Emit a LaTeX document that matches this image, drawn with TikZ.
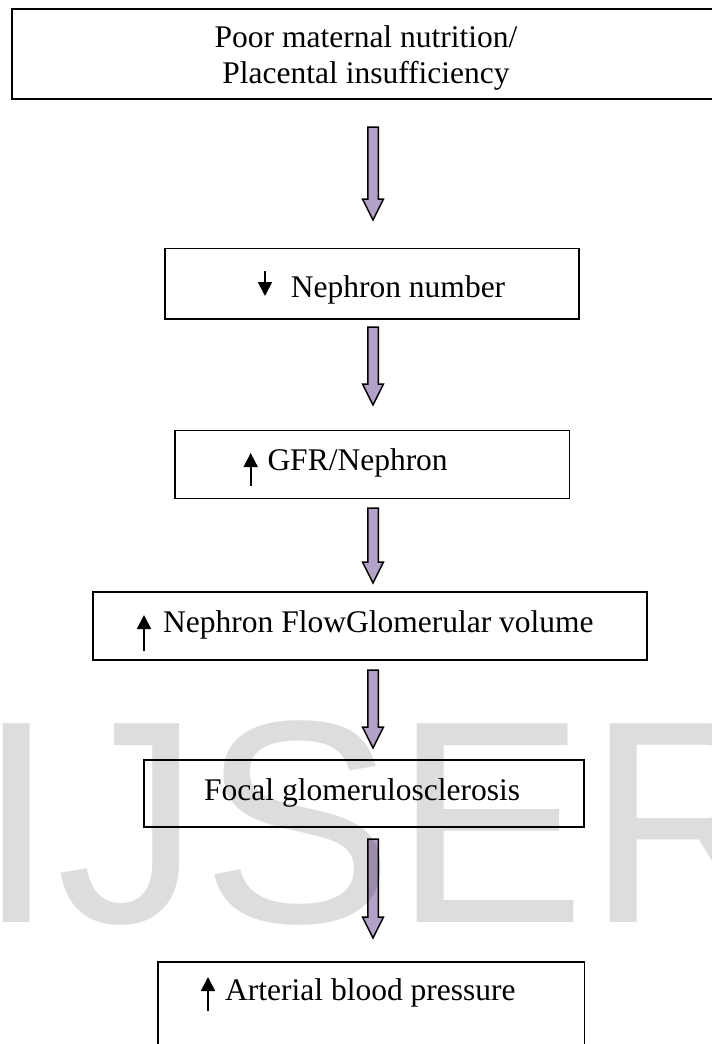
\documentclass[tikz,border=0pt]{standalone}
\usepackage{fontspec}
\setmainfont{Liberation Serif}
\newfontfamily\wmfont{Liberation Sans}
\usetikzlibrary{arrows.meta,calc}
\definecolor{arrowfill}{HTML}{B3A2C7}
\newcommand\flowarrow[2]{%
  \draw[bigarr] let \p1=(#1), \p2=(#2) in
    (\x1-5.25pt,\y1) -- (\x1+5.25pt,\y1) -- (\x1+5.25pt,\y2+21pt) -- (\x1+10.5pt,\y2+21pt)
    -- (\x2,\y2) -- (\x1-10.5pt,\y2+21pt) -- (\x1-5.25pt,\y2+21pt) -- cycle;}
\begin{document}
\begin{tikzpicture}[x=1pt,y=-1pt,
  box/.style={draw=black, line width=1.5pt, rectangle, inner sep=0pt},
  lbl/.style={font=\fontsize{31.5}{35.3}\selectfont, anchor=base west, inner sep=0pt},
  lblc/.style={font=\fontsize{31.5}{35.3}\selectfont, anchor=base, inner sep=0pt},
  smallarr/.style={line width=1.7pt, -{Triangle[width=14pt,length=14pt]}},
  bigarr/.style={draw=black, line width=1.5pt, fill=arrowfill, line join=miter},
  watermark/.style={font=\wmfont\fontsize{289}{289}\selectfont, text=black, text opacity=0.135, anchor=base west, inner sep=0pt}
]
\useasboundingbox (0,0) rectangle (712,1044);

% boxes
\node[box, minimum width=708pt, minimum height=90pt] (b1) at (366,54) {};
\node[box, minimum width=414pt, minimum height=70.7pt] (b2) at (372,283.65) {};
\node[box, minimum width=394.3pt, minimum height=67.6pt] (b3) at (372.25,464.5) {};
\node[box, minimum width=554pt, minimum height=68pt] (b4) at (370,626) {};
\node[box, minimum width=440pt, minimum height=67pt] (b5) at (364,793.5) {};
\node[box, minimum width=426.5pt, minimum height=120pt] (b6) at (371.25,1022) {};

% texts
\node[lblc] (t1a) at (366,47.7) {Poor maternal nutrition/};
\node[lblc] (t1b) at (366,83) {Placental insufficiency};
\node[lbl] (t2) at (290.7,297) {Nephron number};
\node[lbl] (t3) at (267.3,470) {GFR/Nephron};
\node[lbl] (t4) at (163,632.7) {Nephron FlowGlomerular volume};
\node[lbl] (t5) at (204,800.7) {Focal glomerulosclerosis};
\node[lbl] (t6) at (225,1000) {Arterial blood pressure};

% small up/down arrows
\coordinate (d2s) at (265,271); \coordinate (d2e) at (265,296);
\coordinate (u3s) at (250.7,486); \coordinate (u3e) at (250.7,453);
\coordinate (u4s) at (144,651); \coordinate (u4e) at (144,615);
\coordinate (u6s) at (208,1011); \coordinate (u6e) at (208,977);
\draw[smallarr] (d2s) -- (d2e);
\draw[smallarr] (u3s) -- (u3e);
\draw[smallarr] (u4s) -- (u4e);
\draw[smallarr] (u6s) -- (u6e);

% big flow arrows
\coordinate (s1) at (373,127); \coordinate (e1) at (373,220);
\coordinate (s2) at (373,327); \coordinate (e2) at (373,405);
\coordinate (s3) at (373,508); \coordinate (e3) at (373,583);
\coordinate (s4) at (373,670); \coordinate (e4) at (373,748);
\coordinate (s5) at (373,839); \coordinate (e5) at (373,938);
\flowarrow{s1}{e1}
\flowarrow{s2}{e2}
\flowarrow{s3}{e3}
\flowarrow{s4}{e4}
\flowarrow{s5}{e5}

% watermark
\node[watermark] (wm) at (-24,922) {IJSER};
\end{tikzpicture}
\end{document}
